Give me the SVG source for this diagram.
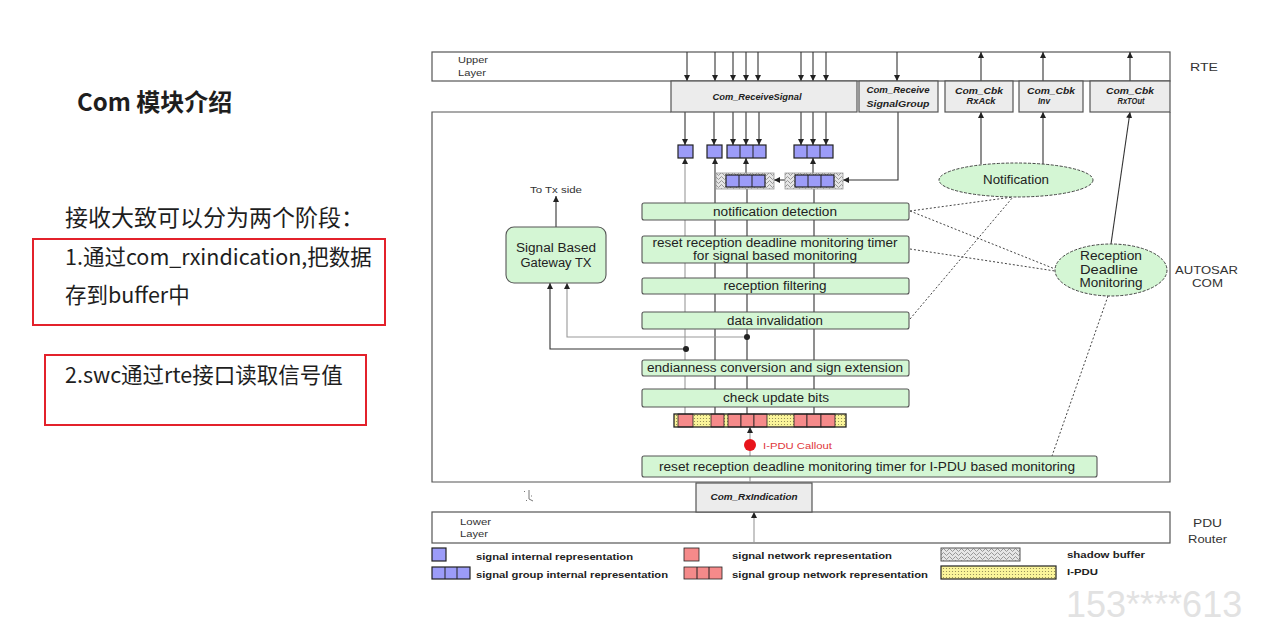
<svg xmlns="http://www.w3.org/2000/svg" width="1276" height="627" viewBox="0 0 1276 627">
  <style>
    .sans { font-family: "Liberation Sans", Arial, sans-serif; }
    .cjk { font-family: "Noto Sans CJK SC", "Microsoft YaHei", sans-serif; fill: #1e1e1e; }
    .layer { fill: #ffffff; stroke: #555; stroke-width: 1.2; }
    .api { fill: #ececec; stroke: #555; stroke-width: 1.2; }
    .apitxt { font-family: "Liberation Sans", Arial, sans-serif; font-size: 8.5px; font-weight: bold; font-style: italic; fill: #222; text-anchor: middle; }
    .stage { fill: #d4f6d4; stroke: #555; stroke-width: 1.1; }
    .stagetxt { font-family: "Liberation Sans", Arial, sans-serif; font-size: 12px; fill: #222; text-anchor: middle; }
    .sig { fill: #9c9cf8; stroke: #222; stroke-width: 1.2; }
    .net { fill: #f58a8a; stroke: #222; stroke-width: 0.8; }
    .ell { fill: #d4f6d4; stroke: #444; stroke-width: 1; stroke-dasharray: 3 1.5; }
    .wire { stroke: #333; stroke-width: 1.1; fill: none; }
    .wire-g { stroke: #999; stroke-width: 1.1; fill: none; }
    .dot { stroke: #444; stroke-width: 1; stroke-dasharray: 2 2; fill: none; }
    .lbl { font-family: "Liberation Sans", Arial, sans-serif; fill: #333; }
    .leg { font-family: "Liberation Sans", Arial, sans-serif; font-size: 9.5px; font-weight: bold; fill: #222; }
    .redbox { fill: none; stroke: #e3212b; stroke-width: 2; }
  </style>
  <defs>
    <marker id="ah" viewBox="0 0 10 10" refX="10" refY="5" markerWidth="6" markerHeight="6" markerUnits="userSpaceOnUse" orient="auto">
      <path d="M0,0 L10,5 L0,10 z" fill="#222"/>
    </marker>
    <pattern id="shadow" width="6" height="4" patternUnits="userSpaceOnUse">
      <rect width="6" height="4" fill="#e6e6e6"/>
      <path d="M0,2 L1.5,0.5 L3,2 L4.5,3.5 L6,2" stroke="#777" stroke-width="0.7" fill="none"/>
    </pattern>
    <pattern id="ipdu" width="3" height="3" patternUnits="userSpaceOnUse">
      <rect width="3" height="3" fill="#fbf59a"/>
      <circle cx="1.5" cy="1.5" r="0.6" fill="#8a8350"/>
    </pattern>
  </defs>

  <rect width="1276" height="627" fill="#ffffff"/>

  <!-- Left-hand notes -->
  <g id="notes">
    <text x="77" y="111" class="cjk" font-size="24" font-weight="bold" fill="#111">Com 模块介绍</text>
    <text x="65" y="226" class="cjk" font-size="23">接收大致可以分为两个阶段：</text>
    <rect x="33" y="239" width="352" height="86" class="redbox"/>
    <text x="65" y="265" class="cjk" font-size="21.5">1.通过com_rxindication,把数据</text>
    <text x="65" y="303" class="cjk" font-size="21.5">存到buffer中</text>
    <rect x="45" y="355" width="321" height="70" class="redbox"/>
    <text x="65" y="383" class="cjk" font-size="21.5">2.swc通过rte接口读取信号值</text>
  </g>

  <!-- Layer frames -->
  <g id="upper-layer">
    <rect x="432" y="52" width="738" height="29" class="layer"/>
    <text x="458" y="63" class="lbl" font-size="9" textLength="30" lengthAdjust="spacingAndGlyphs">Upper</text>
    <text x="458" y="76" class="lbl" font-size="9" textLength="28" lengthAdjust="spacingAndGlyphs">Layer</text>
    <text x="1190" y="71" class="lbl" font-size="11" textLength="28" lengthAdjust="spacingAndGlyphs">RTE</text>
  </g>
  <g id="autosar-com">
    <path d="M671,112 L432,112 L432,482 L1170,482 L1170,112" class="layer"/>
    <text x="1175" y="274" class="lbl" font-size="11" textLength="63" lengthAdjust="spacingAndGlyphs">AUTOSAR</text>
    <text x="1192" y="287" class="lbl" font-size="11" textLength="31" lengthAdjust="spacingAndGlyphs">COM</text>
  </g>
  <g id="lower-layer">
    <rect x="432" y="512" width="738" height="31" class="layer"/>
    <text x="460" y="525" class="lbl" font-size="9" textLength="31" lengthAdjust="spacingAndGlyphs">Lower</text>
    <text x="460" y="537" class="lbl" font-size="9" textLength="28" lengthAdjust="spacingAndGlyphs">Layer</text>
    <text x="1193" y="527" class="lbl" font-size="11.5" textLength="29" lengthAdjust="spacingAndGlyphs">PDU</text>
    <text x="1188" y="543" class="lbl" font-size="11.5" textLength="39" lengthAdjust="spacingAndGlyphs">Router</text>
  </g>

  <!-- Connectors -->
  <g id="connectors">
    <!-- RTE calls into the module -->
    <line x1="687" y1="52" x2="687" y2="81" class="wire" marker-end="url(#ah)"/>
    <line x1="715" y1="52" x2="715" y2="81" class="wire" marker-end="url(#ah)"/>
    <line x1="733" y1="52" x2="733" y2="81" class="wire" marker-end="url(#ah)"/>
    <line x1="746" y1="52" x2="746" y2="81" class="wire" marker-end="url(#ah)"/>
    <line x1="758" y1="52" x2="758" y2="81" class="wire" marker-end="url(#ah)"/>
    <line x1="801" y1="52" x2="801" y2="81" class="wire" marker-end="url(#ah)"/>
    <line x1="813" y1="52" x2="813" y2="81" class="wire" marker-end="url(#ah)"/>
    <line x1="826" y1="52" x2="826" y2="81" class="wire" marker-end="url(#ah)"/>
    <line x1="897" y1="52" x2="897" y2="81" class="wire" marker-end="url(#ah)"/>
    <!-- callbacks up to the RTE -->
    <line x1="981" y1="81" x2="981" y2="52" class="wire" marker-end="url(#ah)"/>
    <line x1="1043" y1="81" x2="1043" y2="52" class="wire" marker-end="url(#ah)"/>
    <line x1="1130" y1="81" x2="1130" y2="52" class="wire" marker-end="url(#ah)"/>

    <!-- Com_ReceiveSignal down to the buffers -->
    <line x1="685" y1="112" x2="685" y2="145" class="wire" marker-end="url(#ah)"/>
    <line x1="714" y1="112" x2="714" y2="145" class="wire" marker-end="url(#ah)"/>
    <line x1="733" y1="112" x2="733" y2="145" class="wire" marker-end="url(#ah)"/>
    <line x1="746" y1="112" x2="746" y2="145" class="wire" marker-end="url(#ah)"/>
    <line x1="759" y1="112" x2="759" y2="145" class="wire" marker-end="url(#ah)"/>
    <line x1="801" y1="112" x2="801" y2="145" class="wire" marker-end="url(#ah)"/>
    <line x1="813" y1="112" x2="813" y2="145" class="wire" marker-end="url(#ah)"/>
    <line x1="826" y1="112" x2="826" y2="145" class="wire" marker-end="url(#ah)"/>

    <!-- Com_ReceiveSignalGroup copies shadow buffers -->
    <polyline points="898,112 898,180 843,180" class="wire" marker-end="url(#ah)"/>
    <line x1="785" y1="180" x2="774" y2="180" class="wire" marker-end="url(#ah)"/>
    <line x1="746" y1="173" x2="746" y2="158" class="wire" marker-end="url(#ah)"/>
    <line x1="813" y1="173" x2="813" y2="158" class="wire" marker-end="url(#ah)"/>

    <!-- signal paths up through the processing stages -->
    <line x1="685" y1="414" x2="685" y2="158" class="wire-g" marker-end="url(#ah)"/>
    <line x1="715" y1="414" x2="715" y2="158" class="wire" marker-end="url(#ah)"/>
    <line x1="747" y1="414" x2="747" y2="189" class="wire"/>
    <line x1="814" y1="414" x2="814" y2="189" class="wire"/>

    <!-- gateway taps -->
    <polyline points="686,349 550,349 550,283" class="wire" marker-end="url(#ah)"/>
    <polyline points="747,337 567,337 567,283" class="wire-g" marker-end="url(#ah)"/>
    <circle cx="686" cy="349" r="3" fill="#222"/>
    <circle cx="747" cy="337" r="3" fill="#222"/>
    <line x1="556" y1="227" x2="556" y2="196" class="wire" marker-end="url(#ah)"/>

    <!-- reception path from the lower layer -->
    <line x1="754" y1="543" x2="754" y2="512" class="wire-g" marker-end="url(#ah)"/>
    <line x1="750" y1="483" x2="750" y2="477" class="wire-g"/>
    <line x1="750" y1="456" x2="750" y2="450" class="wire-g"/>
    <line x1="750" y1="440" x2="750" y2="427" class="wire-g" marker-end="url(#ah)"/>

    <!-- notification / deadline monitoring -->
    <line x1="981" y1="164" x2="981" y2="112" class="wire" marker-end="url(#ah)"/>
    <line x1="1043" y1="164" x2="1043" y2="112" class="wire" marker-end="url(#ah)"/>
    <line x1="1111" y1="244" x2="1130" y2="112" class="wire" marker-end="url(#ah)"/>

    <line x1="910" y1="211" x2="1013" y2="197" class="dot"/>
    <line x1="910" y1="211" x2="1055" y2="269" class="dot"/>
    <line x1="910" y1="249" x2="1055" y2="271" class="dot"/>
    <line x1="910" y1="319" x2="1013" y2="197" class="dot"/>
    <line x1="1108" y1="296" x2="1052" y2="456" class="dot"/>
  </g>

  <!-- API boxes -->
  <g id="com-receive-signal">
    <rect x="671" y="81" width="186" height="31" class="api"/>
    <text x="757" y="100" class="apitxt" font-size="9" textLength="89" lengthAdjust="spacingAndGlyphs">Com_ReceiveSignal</text>
  </g>
  <g id="com-receive-signal-group">
    <rect x="859" y="81" width="79" height="31" class="api"/>
    <text x="898" y="93" class="apitxt" textLength="63" lengthAdjust="spacingAndGlyphs">Com_Receive</text>
    <text x="898" y="107" class="apitxt" textLength="63" lengthAdjust="spacingAndGlyphs">SignalGroup</text>
  </g>
  <g id="com-cbk-rxack">
    <rect x="945" y="81" width="68" height="31" class="api"/>
    <text x="979" y="94" class="apitxt" textLength="48" lengthAdjust="spacingAndGlyphs">Com_Cbk</text>
    <text x="981" y="104" class="apitxt" textLength="29" lengthAdjust="spacingAndGlyphs">RxAck</text>
  </g>
  <g id="com-cbk-inv">
    <rect x="1019" y="81" width="64" height="31" class="api"/>
    <text x="1051" y="94" class="apitxt" textLength="48" lengthAdjust="spacingAndGlyphs">Com_Cbk</text>
    <text x="1044" y="104" class="apitxt" textLength="12" lengthAdjust="spacingAndGlyphs">Inv</text>
  </g>
  <g id="com-cbk-rxtout">
    <rect x="1090" y="81" width="80" height="31" class="api"/>
    <text x="1130" y="94" class="apitxt" textLength="48" lengthAdjust="spacingAndGlyphs">Com_Cbk</text>
    <text x="1131" y="104" class="apitxt" textLength="27" lengthAdjust="spacingAndGlyphs">RxTOut</text>
  </g>
  <g id="com-rxindication">
    <rect x="696" y="483" width="116" height="29" class="api"/>
    <text x="754" y="500" class="apitxt" textLength="87" lengthAdjust="spacingAndGlyphs">Com_RxIndication</text>
  </g>

  <!-- Signal buffers -->
  <g id="signal-buffers">
    <rect x="678" y="145" width="15" height="13" class="sig"/>
    <rect x="707" y="145" width="15" height="13" class="sig"/>
    <rect x="727" y="145" width="39" height="13" class="sig"/>
    <line x1="740" y1="145" x2="740" y2="158" stroke="#222"/>
    <line x1="753" y1="145" x2="753" y2="158" stroke="#222"/>
    <rect x="794" y="145" width="39" height="13" class="sig"/>
    <line x1="807" y1="145" x2="807" y2="158" stroke="#222"/>
    <line x1="820" y1="145" x2="820" y2="158" stroke="#222"/>
  </g>
  <g id="shadow-buffers">
    <rect x="716" y="173" width="58" height="16" fill="url(#shadow)" stroke="#999" stroke-width="0.8"/>
    <rect x="726" y="175" width="39" height="12" class="sig"/>
    <line x1="739" y1="175" x2="739" y2="187" stroke="#222"/>
    <line x1="752" y1="175" x2="752" y2="187" stroke="#222"/>
    <rect x="785" y="173" width="58" height="16" fill="url(#shadow)" stroke="#999" stroke-width="0.8"/>
    <rect x="795" y="175" width="39" height="12" class="sig"/>
    <line x1="808" y1="175" x2="808" y2="187" stroke="#222"/>
    <line x1="821" y1="175" x2="821" y2="187" stroke="#222"/>
  </g>

  <!-- Processing stages -->
  <g id="notification-detection">
    <rect x="642" y="203" width="267" height="17" rx="2" class="stage"/>
    <text x="775" y="215.5" class="stagetxt" textLength="124" lengthAdjust="spacingAndGlyphs">notification detection</text>
  </g>
  <g id="reset-timer-signal">
    <rect x="642" y="236" width="267" height="27" rx="2" class="stage"/>
    <text x="775" y="247" class="stagetxt" textLength="245" lengthAdjust="spacingAndGlyphs">reset reception deadline monitoring timer</text>
    <text x="775" y="260" class="stagetxt" textLength="164" lengthAdjust="spacingAndGlyphs">for signal based monitoring</text>
  </g>
  <g id="reception-filtering">
    <rect x="642" y="278" width="267" height="16" rx="2" class="stage"/>
    <text x="775" y="290" class="stagetxt" textLength="103" lengthAdjust="spacingAndGlyphs">reception filtering</text>
  </g>
  <g id="data-invalidation">
    <rect x="642" y="312" width="267" height="17" rx="2" class="stage"/>
    <text x="775" y="324.5" class="stagetxt" textLength="96" lengthAdjust="spacingAndGlyphs">data invalidation</text>
  </g>
  <g id="endianness-conversion">
    <rect x="642" y="360" width="267" height="16" rx="2" class="stage"/>
    <text x="775" y="372" class="stagetxt" textLength="256" lengthAdjust="spacingAndGlyphs">endianness conversion and sign extension</text>
  </g>
  <g id="check-update-bits">
    <rect x="642" y="389" width="267" height="18" rx="2" class="stage"/>
    <text x="776" y="402" class="stagetxt" textLength="106" lengthAdjust="spacingAndGlyphs">check update bits</text>
  </g>
  <g id="reset-timer-ipdu">
    <rect x="642" y="456" width="455" height="21" rx="2" class="stage"/>
    <text x="867" y="470.5" class="stagetxt" textLength="416" lengthAdjust="spacingAndGlyphs">reset reception deadline monitoring timer for I-PDU based monitoring</text>
  </g>

  <!-- I-PDU contents -->
  <g id="ipdu">
    <rect x="674" y="414" width="172" height="13" fill="url(#ipdu)"/>
    <rect x="678" y="414" width="15" height="13" class="net"/>
    <rect x="711" y="414" width="13" height="13" class="net"/>
    <rect x="728" y="414" width="13" height="13" class="net"/>
    <rect x="741" y="414" width="13" height="13" class="net"/>
    <rect x="754" y="414" width="13" height="13" class="net"/>
    <rect x="794" y="414" width="13" height="13" class="net"/>
    <rect x="807" y="414" width="14" height="13" class="net"/>
    <rect x="821" y="414" width="14" height="13" class="net"/>
    <rect x="674" y="414" width="172" height="13" fill="none" stroke="#222" stroke-width="1.3"/>
  </g>
  <g id="ipdu-callout">
    <circle cx="750" cy="445" r="6" fill="#e8141b"/>
    <text x="763" y="449" class="sans" font-size="9" fill="#e0383a" textLength="69" lengthAdjust="spacingAndGlyphs">I-PDU Callout</text>
  </g>

  <!-- Gateway -->
  <g id="signal-gateway-tx">
    <rect x="506" y="227" width="100" height="56" rx="8" class="stage"/>
    <text x="556" y="252" class="stagetxt" textLength="80" lengthAdjust="spacingAndGlyphs">Signal Based</text>
    <text x="556" y="267" class="stagetxt" textLength="71" lengthAdjust="spacingAndGlyphs">Gateway TX</text>
    <text x="556" y="193" class="lbl" font-size="9" text-anchor="middle" textLength="52" lengthAdjust="spacingAndGlyphs">To Tx side</text>
  </g>

  <!-- Monitoring entities -->
  <g id="notification">
    <ellipse cx="1016" cy="180" rx="77" ry="17" class="ell"/>
    <text x="1016" y="184" class="stagetxt" textLength="66" lengthAdjust="spacingAndGlyphs">Notification</text>
  </g>
  <g id="reception-deadline-monitoring">
    <ellipse cx="1111" cy="270" rx="56" ry="26" class="ell"/>
    <text x="1111" y="260" class="stagetxt" textLength="62" lengthAdjust="spacingAndGlyphs">Reception</text>
    <text x="1109" y="273.5" class="stagetxt" textLength="58" lengthAdjust="spacingAndGlyphs">Deadline</text>
    <text x="1111" y="287" class="stagetxt" textLength="63" lengthAdjust="spacingAndGlyphs">Monitoring</text>
  </g>

  <!-- Pointer mark -->
  <path d="M524,491 L525,492 M529,490 L529,499 L533,501 M531,496 L532,496 M526,500 L527,501" stroke="#777" stroke-width="1" fill="none"/>

  <!-- Legend -->
  <g id="legend">
    <rect x="432" y="548" width="14" height="13" class="sig"/>
    <text x="476" y="560" class="leg" textLength="157" lengthAdjust="spacingAndGlyphs">signal internal representation</text>
    <rect x="432" y="567" width="38" height="12" class="sig"/>
    <line x1="445" y1="567" x2="445" y2="579" stroke="#222"/>
    <line x1="457" y1="567" x2="457" y2="579" stroke="#222"/>
    <text x="476" y="578" class="leg" textLength="192" lengthAdjust="spacingAndGlyphs">signal group internal representation</text>

    <rect x="684" y="548" width="15" height="13" class="net" stroke-width="1.2"/>
    <text x="732" y="559" class="leg" textLength="160" lengthAdjust="spacingAndGlyphs">signal network representation</text>
    <rect x="684" y="567" width="38" height="12" class="net" stroke-width="1.2"/>
    <line x1="697" y1="567" x2="697" y2="579" stroke="#222"/>
    <line x1="709" y1="567" x2="709" y2="579" stroke="#222"/>
    <text x="732" y="578" class="leg" textLength="196" lengthAdjust="spacingAndGlyphs">signal group network representation</text>

    <rect x="941" y="548" width="79" height="13" fill="url(#shadow)" stroke="#555" stroke-width="1"/>
    <text x="1067" y="558" class="leg" textLength="78" lengthAdjust="spacingAndGlyphs">shadow buffer</text>
    <rect x="941" y="566" width="115" height="13" fill="url(#ipdu)" stroke="#222" stroke-width="1.2"/>
    <text x="1067" y="575" class="leg" textLength="31" lengthAdjust="spacingAndGlyphs">I-PDU</text>
  </g>

  <text x="1066" y="617" class="sans" font-size="36" fill="#e2e2e2">153****613</text>
</svg>
